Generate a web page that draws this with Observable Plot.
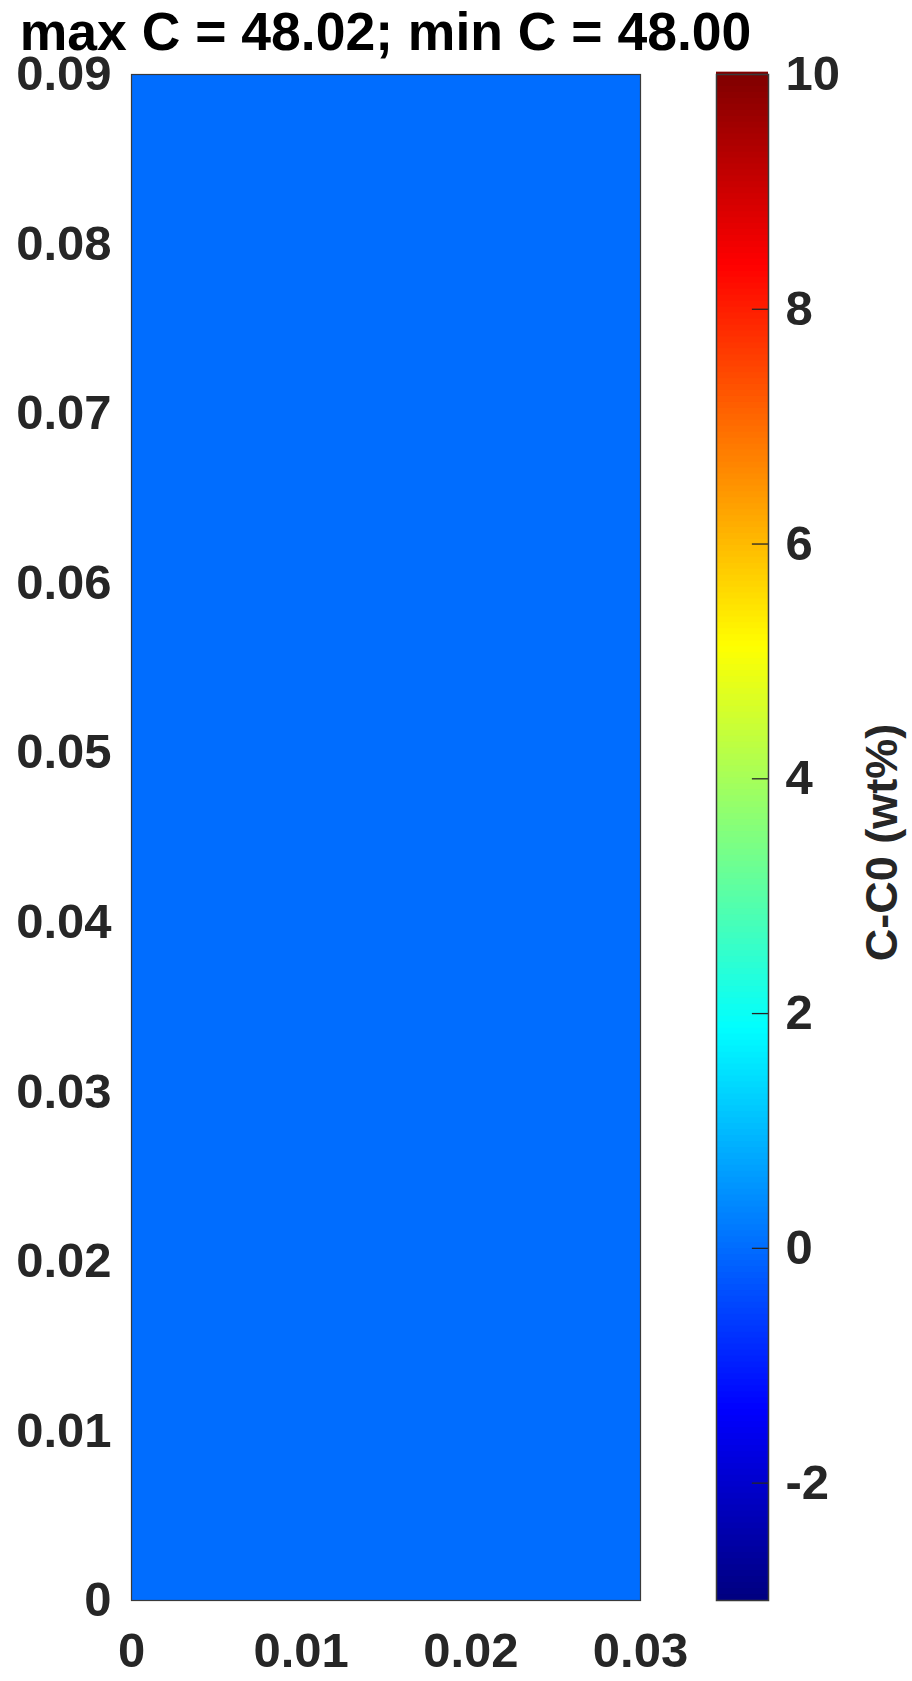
<!DOCTYPE html>
<html>
<head>
<meta charset="utf-8">
<script src="https://cdn.jsdelivr.net/npm/d3@7"></script>
<script src="https://cdn.jsdelivr.net/npm/@observablehq/plot@0.6"></script>
<style>
  html, body { margin: 0; padding: 0; background: #fff; }
  #wrap { position: relative; width: 912px; height: 1681px; font-family: "Liberation Sans", Arial, Helvetica, sans-serif; }
  #wrap svg { position: absolute; left: 0; top: 0; overflow: visible; }
  #title { position: absolute; left: 131px; width: 509px; top: 56px; text-align: center; font-weight: bold;
           font-size: 53.5px; color: #000; white-space: nowrap; line-height: 0; }
  #title span { position: absolute; left: 50%; transform: translateX(-50%); bottom: -2px; line-height: 1; }
</style>
</head>
<body>
<div id="wrap"><div id="title"></div></div>
<script>
// ---- data ----
const maxC = 48.02;
const minC = 48.00;
const C0 = 48.00;
const xEdges = [0, 0.03];           // domain x extent (m)
const yEdges = [0, 0.09];           // domain y extent (m)
const cellValues = [0.01];          // C - C0 (wt%) over the uniform field
const xTicks = [0, 0.01, 0.02, 0.03];
const yTicks = [0, 0.01, 0.02, 0.03, 0.04, 0.05, 0.06, 0.07, 0.08, 0.09];
const cTicks = [-2, 0, 2, 4, 6, 8, 10];
const cDomain = [-3, 10];
const cLabel = "C-C0 (wt%)";

// ---- MATLAB jet colormap ----
function jet(t) {
  const c = v => Math.max(0, Math.min(1, v));
  const r = c(1.5 - Math.abs(4 * t - 3));
  const g = c(1.5 - Math.abs(4 * t - 2));
  const b = c(1.5 - Math.abs(4 * t - 1));
  return `rgb(${Math.round(r * 255)},${Math.round(g * 255)},${Math.round(b * 255)})`;
}
const colorOpts = { type: "linear", domain: cDomain, interpolate: jet, clamp: true };
const fmt = d => (d === 0 ? "0" : d.toFixed(2));
const FONT = "Liberation Sans, Arial, Helvetica, sans-serif";
const TICK_COLOR = "#262626";

document.getElementById("title").innerHTML =
  `<span>max C = ${maxC.toFixed(2)}; min C = ${minC.toFixed(2)}</span>`;

const W = 912, H = 1681;
const cells = cellValues.map(v => ({ x1: xEdges[0], x2: xEdges[1], y1: yEdges[0], y2: yEdges[1], v }));

const main = Plot.plot({
  width: W, height: H,
  marginLeft: 131, marginRight: 272, marginTop: 74, marginBottom: 81,
  style: { fontFamily: FONT, fontSize: "49px", fontWeight: "bold", background: "transparent", overflow: "visible" },
  x: { domain: xEdges, ticks: xTicks, tickFormat: fmt, tickSize: 0, tickPadding: 32, label: null },
  y: { domain: yEdges, ticks: yTicks, tickFormat: fmt, tickSize: 0, tickPadding: 20, label: null },
  color: colorOpts,
  marks: [
    Plot.rect(cells, { x1: "x1", x2: "x2", y1: "y1", y2: "y2", fill: "v" }),
    Plot.frame({ stroke: "#3a3a3a", strokeWidth: 1.2 })
  ]
});

// colorbar
const nLevels = 256;
const levels = d3.range(nLevels).map(i => ({
  a: cDomain[0] + (cDomain[1] - cDomain[0]) * i / nLevels,
  b: cDomain[0] + (cDomain[1] - cDomain[0]) * (i + 1) / nLevels
}));
const cbar = Plot.plot({
  width: W, height: H,
  marginLeft: 716, marginRight: 144, marginTop: 74, marginBottom: 81,
  style: { fontFamily: FONT, fontSize: "49px", fontWeight: "bold", background: "transparent", overflow: "visible" },
  x: { domain: [0, 1], axis: null },
  y: { domain: cDomain, ticks: cTicks, tickFormat: d => String(d), tickSize: 0, tickPadding: 17, axis: "right", label: null },
  color: colorOpts,
  marks: [
    Plot.rect(levels, { x1: 0, x2: 1, y1: "a", y2: d => d.b + 0.02, fill: d => (d.a + d.b) / 2 }),
    Plot.ruleY(cTicks, { y: d => d, x1: 0.69, x2: 1, stroke: TICK_COLOR, strokeWidth: 1.3 }),
    Plot.frame({ stroke: "#3a3a3a", strokeWidth: 1.5 }),
    Plot.text([cLabel], { text: d => d, frameAnchor: "right", rotate: -90, dx: 114, dy: 5,
      fill: TICK_COLOR, fontSize: 45, fontWeight: "bold", textAnchor: "middle" })
  ]
});

for (const svg of [main, cbar]) {
  d3.select(svg).selectAll("g[aria-label$='tick label'] text, g[aria-label$='tick label']").attr("fill", TICK_COLOR);
  document.getElementById("wrap").appendChild(svg);
}
</script>
</body>
</html>
